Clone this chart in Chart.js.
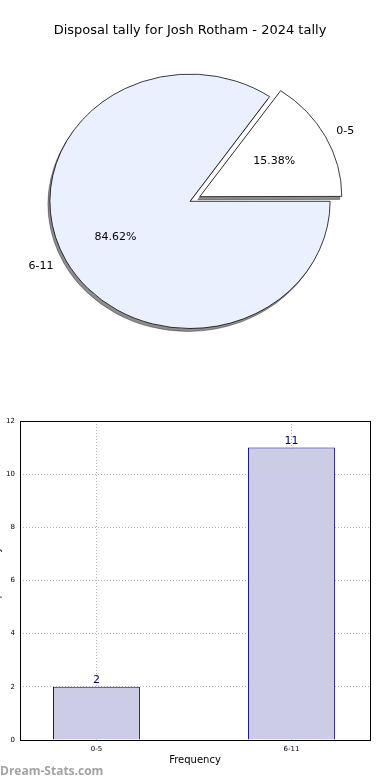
<!DOCTYPE html>
<html>
<head>
<meta charset="utf-8">
<script src="https://cdn.jsdelivr.net/npm/chart.js@4/dist/chart.umd.min.js"></script>
<style>
  html, body { margin: 0; padding: 0; background: #fff; }
  body { width: 390px; height: 780px; position: relative; overflow: hidden; }
  #pie { position: absolute; left: 0; top: 0; }
  #bar { position: absolute; left: -12px; top: 400px; }
  .mark { position: absolute; left: 0; top: 762px; font: bold 12px "Open Sans", sans-serif; color: #a3a3a3; }
</style>
</head>
<body>
<canvas id="pie" width="390" height="380"></canvas>
<canvas id="bar" width="402" height="380"></canvas>
<div class="mark">Dream-Stats.com</div>
<script>
const chartTitle = "Disposal tally for Josh Rotham - 2024 tally";
const pieLabels = ["0-5", "6-11"];
const pieValues = [2, 11];
const pieColors = ["#ffffff", "#eaf0fd"];
const barLabels = ["0-5", "6-11"];
const barValues = [2, 11];
const yTicks = [0, 2, 4, 6, 8, 10, 12];

const FONT = "'DejaVu Sans', sans-serif";
const SQUASH = 0.908; // pie is drawn a bit flatter, like the original
const total = pieValues.reduce((a, b) => a + b, 0);

// flatten the pie, draw a gray copy under it as shadow, then write labels
const pieExtras = {
  id: "pieExtras",
  beforeDatasetsDraw(chart) {
    const ctx = chart.ctx;
    const arcs = chart.getDatasetMeta(0).data;
    const a = arcs[0];
    ctx.save();
    ctx.translate(a.x, a.y);
    ctx.scale(1, SQUASH);
    ctx.translate(-a.x, -a.y);
    ctx.save();
    ctx.translate(-2, 3 / SQUASH);
    ctx.filter = "brightness(0) opacity(0.45)";
    arcs.forEach((arc) => arc.draw(ctx));
    ctx.restore();
  },
  afterDatasetsDraw(chart) {
    const ctx = chart.ctx;
    ctx.restore();
    ctx.save();
    ctx.font = "11px " + FONT;
    ctx.fillStyle = "#000";
    ctx.textBaseline = "middle";
    chart.getDatasetMeta(0).data.forEach((arc, i) => {
      const mid = (arc.startAngle + arc.endAngle) / 2;
      const shift = (arc.options.offset || 0) / 4;
      const cx = arc.x + Math.cos(mid) * shift;
      const cy = arc.y + Math.sin(mid) * shift * SQUASH;
      const r = arc.outerRadius;
      const lx = cx + Math.cos(mid) * r * 1.1;
      const ly = cy + Math.sin(mid) * r * 1.1 * SQUASH;
      ctx.textAlign = Math.cos(mid) >= 0 ? "left" : "right";
      ctx.fillText(pieLabels[i], lx, ly);
      const px = cx + Math.cos(mid) * r * 0.6;
      const py = cy + Math.sin(mid) * r * 0.6 * SQUASH;
      ctx.textAlign = "center";
      ctx.fillText((pieValues[i] / total * 100).toFixed(2) + "%", px, py);
    });
    ctx.restore();
  }
};

new Chart(document.getElementById("pie"), {
  type: "pie",
  data: {
    labels: pieLabels,
    datasets: [{
      data: pieValues,
      backgroundColor: pieColors,
      borderColor: "#000",
      borderWidth: 0.8,
      offset: [44, 0]
    }]
  },
  options: {
    responsive: false,
    animation: false,
    rotation: 90 - pieValues[0] / total * 360,
    layout: { padding: { left: 27.5, right: 37.5, top: 1, bottom: 16 } },
    plugins: {
      legend: { display: false },
      tooltip: { enabled: false },
      title: {
        display: true,
        text: chartTitle,
        color: "#000",
        font: { family: FONT, size: 13, weight: "normal" },
        padding: { top: 22, bottom: 0 }
      }
    }
  },
  plugins: [pieExtras]
});

// value labels above the bars and a box round the plot area
const barExtras = {
  id: "barExtras",
  afterDatasetsDraw(chart) {
    const ctx = chart.ctx;
    ctx.save();
    ctx.font = "11px " + FONT;
    ctx.fillStyle = "#00008b";
    ctx.textAlign = "center";
    ctx.textBaseline = "bottom";
    chart.getDatasetMeta(0).data.forEach((bar, i) => {
      ctx.fillText(String(barValues[i]), bar.x, bar.y - 1);
    });
    const a = chart.chartArea;
    ctx.strokeStyle = "#000";
    ctx.lineWidth = 1;
    ctx.strokeRect(Math.round(a.left) + 0.5, Math.round(a.top) + 0.5,
      Math.round(a.right - a.left), Math.round(a.bottom - a.top));
    ctx.restore();
  }
};

new Chart(document.getElementById("bar"), {
  type: "bar",
  data: {
    datasets: [{
      data: barValues.map((v, i) => ({ x: i, y: v })),
      backgroundColor: "#ccccE6",
      borderColor: "#000080",
      borderWidth: 1,
      barPercentage: 0.446,
      categoryPercentage: 1
    }]
  },
  options: {
    responsive: false,
    animation: false,
    layout: { padding: { top: 21, right: 20, left: 0, bottom: 0 } },
    plugins: { legend: { display: false }, tooltip: { enabled: false } },
    scales: {
      x: {
        type: "linear",
        offset: false,
        min: -0.392,
        max: 1.403,
        afterBuildTicks: (s) => { s.ticks = barLabels.map((_, i) => ({ value: i })); },
        afterFit: (s) => { s.height = 40; },
        ticks: {
          callback: (v) => barLabels[v],
          color: "#000",
          font: { family: FONT, size: 7 },
          padding: 5,
          maxRotation: 0
        },
        grid: { offset: false, color: "#b0b0b0", drawTicks: false },
        border: { display: false, dash: [1, 2] },
        title: {
          display: true,
          text: "Frequency",
          color: "#000",
          font: { family: FONT, size: 10 },
          padding: { top: 0, bottom: 14 }
        }
      },
      y: {
        min: 0,
        max: 12,
        afterBuildTicks: (s) => { s.ticks = yTicks.map((v) => ({ value: v })); },
        afterFit: (s) => { s.width = 32; },
        ticks: {
          color: "#000",
          font: { family: FONT, size: 7 },
          padding: 5
        },
        grid: { color: "#b0b0b0", drawTicks: false },
        border: { display: false, dash: [1, 2] },
        title: {
          display: true,
          text: "Disposal Tally",
          color: "#000",
          font: { family: FONT, size: 10 },
          padding: { top: 3, bottom: 0 }
        }
      }
    }
  },
  plugins: [barExtras]
});
</script>
</body>
</html>
